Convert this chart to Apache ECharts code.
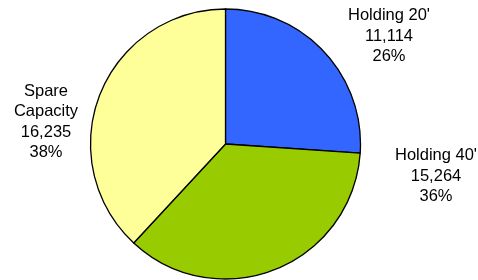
<!DOCTYPE html>
<html>
<head>
<meta charset="utf-8">
<script src="https://cdn.jsdelivr.net/npm/echarts@6/dist/echarts.min.js"></script>
<style>
  html, body { margin: 0; padding: 0; background: #fff; }
  #main { width: 478px; height: 280px; }
</style>
</head>
<body>
<div id="main"></div>
<script>
// slice names and values
var names = ["Holding 20'", "Holding 40'", 'Spare\nCapacity'];
var values = [11114, 15264, 16235];
var colors = ['#3366FF', '#99CC00', '#FFFF99'];

// where each label block sits (centre of text)
var labelSpots = [[389, 36], [436, 176], [46, 122]];

var myChart = echarts.init(document.getElementById('main'));

var total = values.reduce(function (a, b) { return a + b; }, 0);

var data = values.map(function (v, i) {
    return {
        name: names[i],
        value: v,
        itemStyle: { color: colors[i] }
    };
});

var option = {
    animation: false,
    series: [{
        type: 'pie',
        center: [225.5, 144],
        radius: 135,
        startAngle: 90,
        clockwise: true,
        data: data,
        itemStyle: {
            borderColor: '#000',
            borderWidth: 1.3
        },
        label: {
            show: true,
            position: 'outside',
            color: '#000',
            fontFamily: 'Liberation Sans, Arial, sans-serif',
            fontSize: 16.5,
            lineHeight: 20.5,
            align: 'center',
            overflow: 'none',
            width: 120,
            formatter: function (p) {
                var pct = Math.round(p.value / total * 100);
                return p.name + '\n' + p.value.toLocaleString('en-US') + '\n' + pct + '%';
            }
        },
        labelLine: { show: false },
        labelLayout: function (params) {
            var s = labelSpots[params.dataIndex];
            return {
                x: s[0],
                y: s[1],
                align: 'center',
                verticalAlign: 'middle'
            };
        },
        emphasis: { disabled: true }
    }]
};

myChart.setOption(option);
</script>
</body>
</html>
